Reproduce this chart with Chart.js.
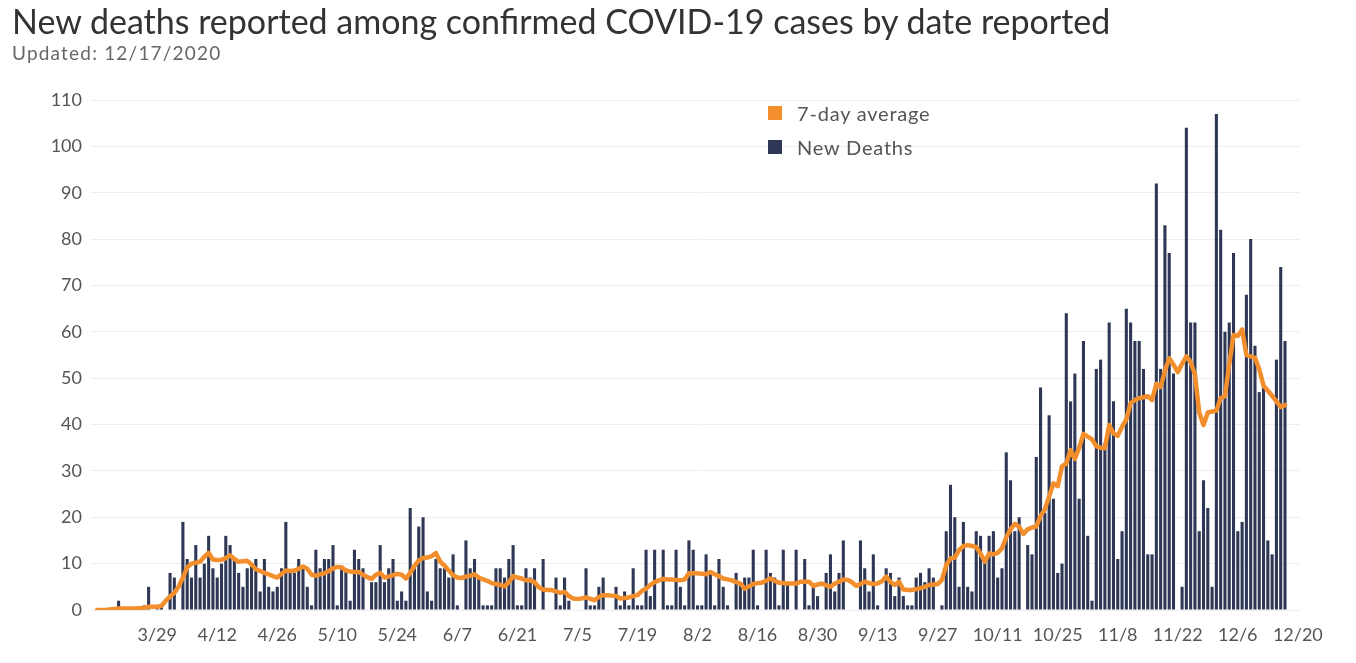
<!DOCTYPE html>
<html>
<head>
<meta charset="utf-8">
<script src="https://cdn.jsdelivr.net/npm/chart.js@4.4.0/dist/chart.umd.min.js"></script>
<style>
  html, body { margin: 0; padding: 0; background: #fff; }
  #wrap { position: relative; width: 1356px; height: 663px; overflow: hidden; }
  #deathsChart { position: absolute; left: 0; top: 0; }
  #title { position: absolute; left: 12px; top: 0px; font-family: Lato, sans-serif; font-size: 34px; color: #333; white-space: nowrap; }
  #sub { position: absolute; left: 12px; top: 41px; font-family: Lato, sans-serif; font-size: 19px; letter-spacing: 1.2px; color: #666; white-space: nowrap; }
  #legend { position: absolute; left: 768px; top: 96px; font-family: Lato, sans-serif; font-size: 20px; letter-spacing: 0.8px; color: #555; }
  .item { display: flex; align-items: center; height: 34px; }
  .sw { width: 14px; height: 14px; margin-right: 15px; }
</style>
</head>
<body>
<div id="wrap">
  <canvas id="deathsChart" width="1356" height="663"></canvas>
  <div id="title">New deaths reported among confirmed COVID-19 cases by date reported</div>
  <div id="sub">Updated: 12/17/2020</div>
  <div id="legend">
    <div class="item"><span class="sw" style="background:#f28e2b"></span>7-day average</div>
    <div class="item"><span class="sw" style="background:#2e3856"></span>New Deaths</div>
  </div>
</div>
<script>
// daily values, 3/15/2020 .. 12/17/2020, one row per week
var newDeaths = [
  0,0,0,0,0,2,0,
  0,0,0,0,1,5,0,
  1,1,0,8,7,0,19,
  11,7,14,7,10,16,9,
  7,10,16,14,11,8,5,
  9,10,11,4,11,5,4,
  5,9,19,8,8,11,9,
  5,1,13,9,11,11,14,
  1,9,9,2,13,11,9,
  0,6,6,14,6,9,11,
  2,4,2,22,9,18,20,
  4,2,11,9,9,7,12,
  1,0,15,9,11,7,1,
  1,1,9,9,7,11,14,
  1,1,9,7,9,0,11,
  0,0,7,1,7,2,0,
  0,0,9,1,1,5,7,
  0,0,5,1,4,1,9,
  1,1,13,3,13,0,13,
  1,1,13,5,1,15,13,
  1,1,12,8,1,11,5,
  1,0,8,6,7,7,13,
  1,0,13,8,7,1,13,
  6,0,13,0,11,1,5,
  3,0,8,12,4,8,15,
  0,0,0,15,9,4,12,
  1,0,9,8,3,7,3,
  1,1,7,8,6,9,7,
  0,1,17,27,20,5,19,
  5,4,17,16,11,16,17,
  7,9,34,28,17,20,0,
  14,12,33,48,21,42,24,
  8,10,64,45,51,24,58,
  16,2,52,54,36,62,45,
  11,17,65,62,58,58,52,
  12,12,92,52,83,77,51,
  0,5,104,62,62,17,28,
  22,5,107,82,60,62,77,
  17,19,68,80,57,47,48,
  15,12,54,74,58
];

var sevenDayAvg = [
  0,0,0,0.1,0.2,0.3,0.3,
  0.3,0.3,0.3,0.4,0.5,0.7,0.7,
  0.7,0.9,2.0,2.9,3.7,5.0,7.0,
  9.2,10.0,10.2,10.4,11.5,12.3,10.9,
  10.8,10.8,11.2,11.8,11.0,10.4,10.5,
  10.6,9.8,8.8,8.4,8.0,7.7,7.3,
  7.0,7.8,8.5,8.4,8.5,8.9,9.4,
  8.9,7.6,7.4,7.7,7.9,8.4,9.0,
  9.3,9.2,8.5,8.3,8.2,8.2,7.6,
  7.1,6.7,7.6,8.0,7.0,7.2,7.5,
  7.8,7.6,6.8,8.0,9.5,10.7,11.2,
  11.3,11.6,12.3,10.4,9.6,8.5,7.5,
  7.0,6.9,7.2,7.4,7.7,7.0,6.6,
  6.3,5.8,5.6,5.4,5.1,6.0,7.3,
  7.0,6.8,6.4,6.4,6.0,4.9,4.4,
  4.3,4.3,4.0,3.7,3.9,3.0,2.5,
  2.4,2.5,2.7,2.4,2.1,2.8,3.2,
  3.2,3.1,3.0,2.5,2.6,2.7,3.0,
  3.2,4.1,4.6,5.4,6.0,6.4,6.7,
  6.6,6.6,6.5,6.4,6.6,7.9,7.9,
  7.9,7.8,7.7,8.2,7.7,7.3,6.8,
  6.6,6.4,6.0,5.7,4.6,5.1,5.6,
  5.8,5.9,6.3,6.8,6.3,5.9,5.8,
  5.7,5.7,5.7,6.1,6.1,6.1,5.2,
  5.5,5.7,5.3,5.0,5.7,6.1,6.6,
  6.5,6.0,5.2,5.6,6.1,5.8,5.6,
  5.7,6.2,7.2,6.0,5.4,6.1,4.4,
  4.3,4.3,4.5,4.7,5.0,5.4,5.5,
  5.6,6.5,9.7,11.1,11.3,12.9,13.8,
  14.0,13.8,13.6,12.2,10.4,12.2,12.0,
  12.3,13.3,15.7,17.4,18.6,18.0,16.4,
  17.4,17.8,18.0,20.3,21.7,24.5,27.3,
  26.7,31.0,31.6,34.5,32.6,35.0,38.0,
  37.4,36.8,35.3,35.0,34.9,39.9,38.1,
  37.6,39.5,41.1,44.6,45.3,45.7,45.9,
  46.1,45.3,48.8,48.1,51.6,54.3,52.9,
  51.3,53.1,54.7,53.5,50.8,42.6,39.9,
  42.6,42.8,43.0,45.7,46.1,53.0,59.3,
  59.1,60.5,55.0,54.7,54.4,51.9,48.4,
  47.3,46.2,45.0,43.8,44.2
];

var tickLabels = ['3/29','4/12','4/26','5/10','5/24','6/7','6/21','7/5','7/19',
  '8/2','8/16','8/30','9/13','9/27','10/11','10/25','11/8','11/22','12/6','12/20'];

// one category per day, 3/15 through 12/20 (axis runs a few days past the data)
var days = [];
for (var i = 0; i <= 280; i++) {
  var d = new Date(2020, 2, 15 + i);
  days.push((d.getMonth() + 1) + '/' + d.getDate());
}

var tickFont = { family: 'Lato, sans-serif', size: 18 };

var ctx = document.getElementById('deathsChart').getContext('2d');
var deathsChart = new Chart(ctx, {
  type: 'bar',
  data: {
    labels: days,
    datasets: [
      {
        type: 'line',
        label: '7-day average',
        data: sevenDayAvg,
        borderColor: '#f28e2b',
        borderWidth: 4.5,
        pointRadius: 0,
        tension: 0,
        borderJoinStyle: 'round',
        borderCapStyle: 'round',
        order: 0
      },
      {
        label: 'New Deaths',
        data: newDeaths,
        backgroundColor: '#2e3856',
        barPercentage: 0.72,
        categoryPercentage: 1,
        order: 1
      }
    ]
  },
  options: {
    responsive: false,
    animation: false,
    devicePixelRatio: 1,
    layout: { padding: { left: 0, right: 56, top: 100, bottom: 0 } },
    plugins: {
      legend: { display: false },
      tooltip: { enabled: false }
    },
    scales: {
      x: {
        grid: { display: false, drawTicks: false },
        border: { display: false },
        ticks: {
          autoSkip: false,
          maxRotation: 0,
          padding: 14,
          color: '#555',
          font: tickFont,
          callback: function (value) {
            var l = this.getLabelForValue(value);
            return tickLabels.indexOf(l) >= 0 ? l : '';
          }
        },
        afterFit: function (scale) { scale.height = 53; }
      },
      y: {
        min: 0,
        max: 110,
        grid: { color: '#eeeeee', lineWidth: 1, tickLength: 4 },
        border: { display: false },
        ticks: { stepSize: 10, padding: 9, color: '#555', font: tickFont },
        afterFit: function (scale) { scale.width = 95; }
      }
    }
  }
});
</script>
</body>
</html>
